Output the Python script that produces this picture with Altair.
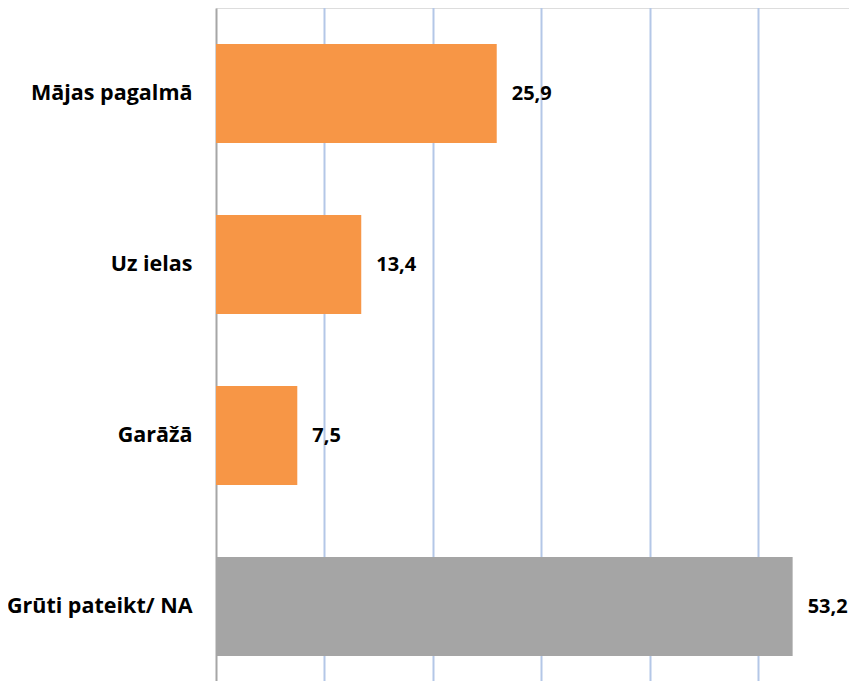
import altair as alt
import pandas as pd

categories = ["Mājas pagalmā", "Uz ielas", "Garāžā", "Grūti pateikt/ NA"]
values = [25.9, 13.4, 7.5, 53.2]
colors = ["#F79646", "#F79646", "#F79646", "#A5A5A5"]

df = pd.DataFrame({"cat": categories, "val": values, "col": colors})

x_scale = alt.Scale(domain=[0, 58.4], nice=False, zero=True)
y_scale = alt.Scale(domain=categories, range=[0, 684], paddingInner=0.42, paddingOuter=0.21)

base = alt.Chart(df).encode(
    y=alt.Y("cat:N", scale=y_scale, sort=categories, title=None,
            axis=alt.Axis(labelFont="Open Sans", labelFontWeight="bold", labelFontSize=21.5,
                          labelColor="#000000", ticks=False, labelPadding=24,
                          domain=True, domainColor="#A6A6A6", domainWidth=2, grid=False,
                          labelLimit=300)),
)

bars = base.mark_bar().encode(
    x=alt.X("val:Q", scale=x_scale, title=None,
            axis=alt.Axis(values=[10, 20, 30, 40, 50], labels=False, ticks=False, domain=False,
                          grid=True, gridColor="#B4C7E7", gridWidth=2)),
    color=alt.Color("col:N", scale=None),
)

text = base.mark_text(align="left", baseline="middle", dx=15, font="Open Sans",
                      fontWeight="bold", fontSize=20, color="#000000").encode(
    x=alt.X("val:Q", scale=x_scale),
    text="lab:N",
).transform_calculate(lab="replace(format(datum.val, '.1f'), '.', ',')")

chart = (bars + text).properties(
    width=633, height=673,
    autosize=alt.AutoSizeParams(type="none"),
    padding={"left": 208, "top": 0, "right": 0, "bottom": 0},
).configure_view(stroke=None).configure(background="#FFFFFF")

chart.save("out.html", embed_options={"renderer": "svg", "actions": False})
